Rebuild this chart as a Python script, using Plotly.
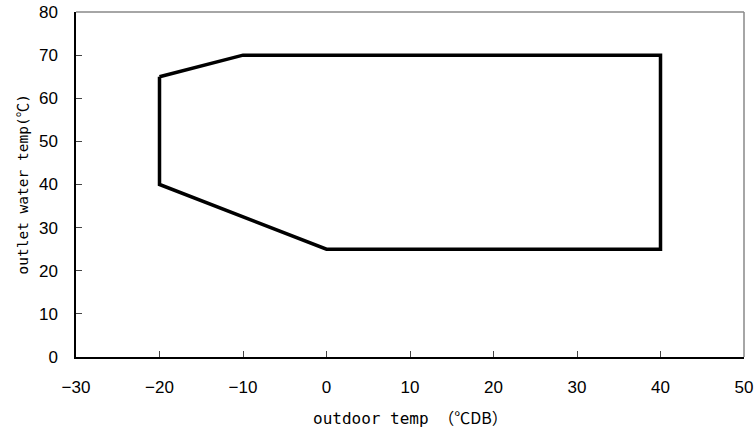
import plotly.graph_objects as go

# Operating envelope (outdoor temp °CDB, outlet water temp °C)
outdoor_temp = [-20, -10, 40, 40, 0, -20, -20]
water_temp = [65, 70, 70, 25, 25, 40, 65]

x_ticks = [-30, -20, -10, 0, 10, 20, 30, 40, 50]
x_ticktext = ["−30", "−20", "−10", "0", "10", "20", "30", "40", "50"]
y_ticks = [0, 10, 20, 30, 40, 50, 60, 70, 80]

cjk = "font-family:'Noto Sans CJK JP'"
x_title = f"outdoor temp <span style=\"{cjk}\">（℃DB）</span>"
y_title = "outlet water temp(℃)"

fig = go.Figure()
fig.add_trace(go.Scatter(
    x=outdoor_temp, y=water_temp, mode="lines",
    line=dict(color="black", width=3.5), showlegend=False,
    hoverinfo="skip",
))

tick_font = dict(family="Liberation Sans, Arial, sans-serif", size=17, color="black")
x_title_font = dict(family="DejaVu Sans Mono, Noto Sans CJK JP, monospace", size=16, color="black")
y_title_font = dict(family="DejaVu Sans Mono, Noto Sans CJK JP, monospace", size=14.5, color="black")

fig.update_xaxes(
    range=[-30, 50], tickvals=x_ticks, ticktext=x_ticktext,
    showgrid=False, zeroline=False, showline=True, linecolor="black", linewidth=1.5,
    ticks="inside", ticklen=6, tickcolor="#444", tickfont=tick_font,
    ticklabelstandoff=14, automargin=False,
)
fig.update_yaxes(
    range=[0, 80], tickvals=y_ticks,
    showgrid=False, zeroline=False, showline=True, linecolor="black", linewidth=1.5,
    ticks="inside", ticklen=6, tickcolor="#444", tickfont=tick_font,
    ticklabelstandoff=13, automargin=False,
)
# top and right frame lines
fig.add_shape(type="line", xref="paper", yref="paper", x0=0, x1=1, y0=1, y1=1,
              line=dict(color="#888", width=1.5), layer="above")
fig.add_shape(type="line", xref="paper", yref="paper", x0=1, x1=1, y0=0, y1=1,
              line=dict(color="#888", width=1.5), layer="above")

fig.add_annotation(text=x_title, xref="paper", yref="paper", x=0.5, y=0,
                   yshift=-60, showarrow=False, font=x_title_font,
                   xanchor="center", yanchor="middle")
fig.add_annotation(text=y_title, xref="paper", yref="paper", x=0, y=0.5,
                   xshift=-54, showarrow=False, font=y_title_font, textangle=-90,
                   xanchor="center", yanchor="middle")

fig.update_layout(
    width=756, height=430,
    margin=dict(l=76, r=12, t=12, b=73),
    plot_bgcolor="white", paper_bgcolor="white",
)
fig.write_html(
    "out.html",
    config={"displayModeBar": False},
    post_script="document.body.style.margin='0';document.body.style.overflow='hidden';",
)
